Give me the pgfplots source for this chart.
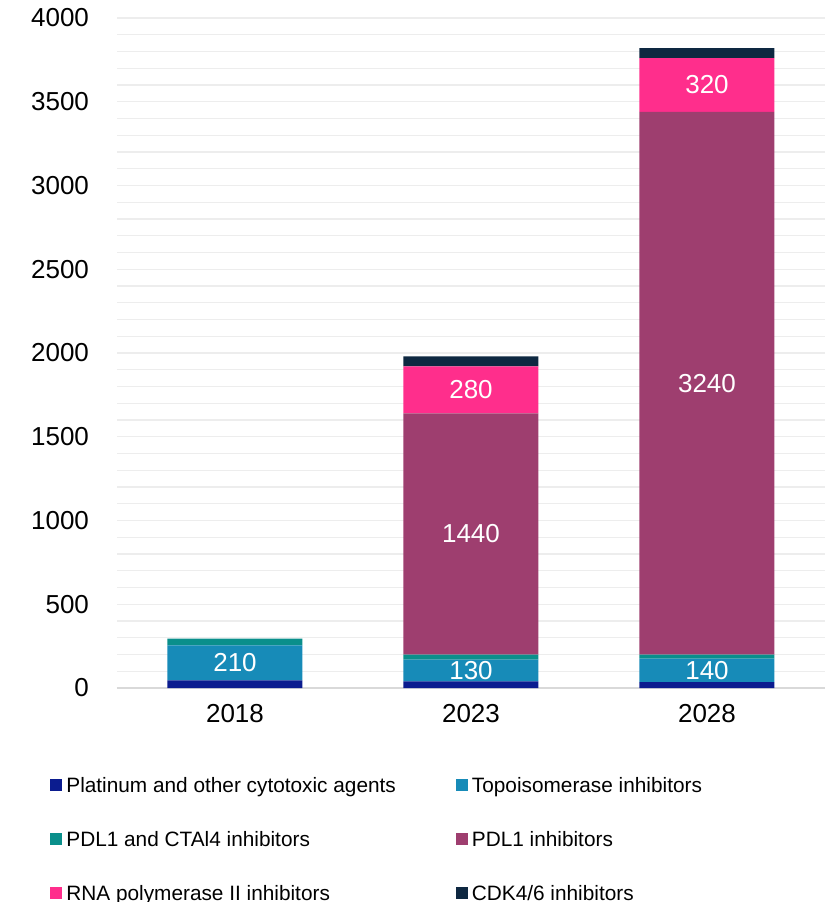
\documentclass[border=0pt]{standalone}
\usepackage{pgfplots}
\pgfplotsset{compat=1.18}
\usepackage{fontspec}
\setmainfont{Liberation Sans}
\definecolor{cPlat}{HTML}{0B1C8F}
\definecolor{cTopo}{HTML}{178BB8}
\definecolor{cDual}{HTML}{0A8F8B}
\definecolor{cPDL}{HTML}{9E3E6F}
\definecolor{cRNA}{HTML}{FF2E8C}
\definecolor{cCDK}{HTML}{0E2841}
\definecolor{cGrid}{HTML}{EDEDED}
\definecolor{cBase}{HTML}{D9D9D9}
\pgfplotsset{sq/.style={legend image code/.code={\fill[##1] (0pt,-2.2pt) rectangle (6pt,3.8pt);}}}
\begin{document}
\begin{tikzpicture}[x=1pt,y=1pt]
\useasboundingbox (-58.5,-107) rectangle (359.5,344);
\begin{axis}[
  at={(0,0)}, anchor=south west,
  scale only axis, width=354pt, height=335pt,
  ybar stacked, bar width=0.572,
  xmin=-0.5, xmax=2.5, ymin=0, ymax=4000,
  xtick={0,1,2}, xticklabels={2018,2023,2028},
  ytick={0,500,...,4000},
  minor y tick num=4,
  ymajorgrids, yminorgrids,
  major grid style={cGrid, line width=0.7pt},
  minor grid style={cGrid, line width=0.7pt},
  extra y ticks={0}, extra y tick labels={},
  extra y tick style={major grid style={cBase, line width=1.2pt}},
  axis line style={draw=none},
  tick style={draw=none},
  tick label style={font=\fontsize{13}{15}\selectfont},
  /pgf/number format/assume math mode=true,
  /pgf/number format/1000 sep={},
  yticklabel style={xshift=-10.5pt},
  xticklabel style={yshift=-4.5pt},
  legend columns=2,
  legend cell align=left,
  legend style={at={(-0.1031,-0.121)}, anchor=north west, draw=none, fill=none,
    font=\fontsize{10.4}{12}\selectfont, row sep=14pt,
    /tikz/column 2/.style={column sep=28pt}},
]
\addplot[fill=cPlat, draw=none, sq] coordinates {(0,45) (1,40) (2,35)};
\addlegendentry{Platinum and other cytotoxic agents}
\addplot[fill=cTopo, draw=none, sq] coordinates {(0,210) (1,130) (2,140)};
\addlegendentry{Topoisomerase inhibitors}
\addplot[fill=cDual, draw=none, sq] coordinates {(0,40) (1,30) (2,25)};
\addlegendentry{PDL1 and CTAl4 inhibitors}
\addplot[fill=cPDL, draw=none, sq] coordinates {(0,0) (1,1440) (2,3240)};
\addlegendentry{PDL1 inhibitors}
\addplot[fill=cRNA, draw=none, sq] coordinates {(0,0) (1,280) (2,320)};
\addlegendentry{RNA polymerase II inhibitors}
\addplot[fill=cCDK, draw=none, sq] coordinates {(0,0) (1,60) (2,60)};
\addlegendentry{CDK4/6 inhibitors}
\end{axis}
\begin{axis}[
  at={(0,0)}, anchor=south west,
  scale only axis, width=354pt, height=335pt,
  xmin=-0.5, xmax=2.5, ymin=0, ymax=4000,
  hide axis,
]
\addplot[only marks, mark=none, nodes near coords, point meta=explicit symbolic,
  nodes near coords style={anchor=center, text=white, font=\fontsize{13}{15}\selectfont}]
  table[meta=lab] {
x y lab
0 150 210
1 105 130
2 105 140
1 920 1440
2 1820 3240
1 1780 280
2 3600 320
};
\end{axis}
\end{tikzpicture}
\end{document}
